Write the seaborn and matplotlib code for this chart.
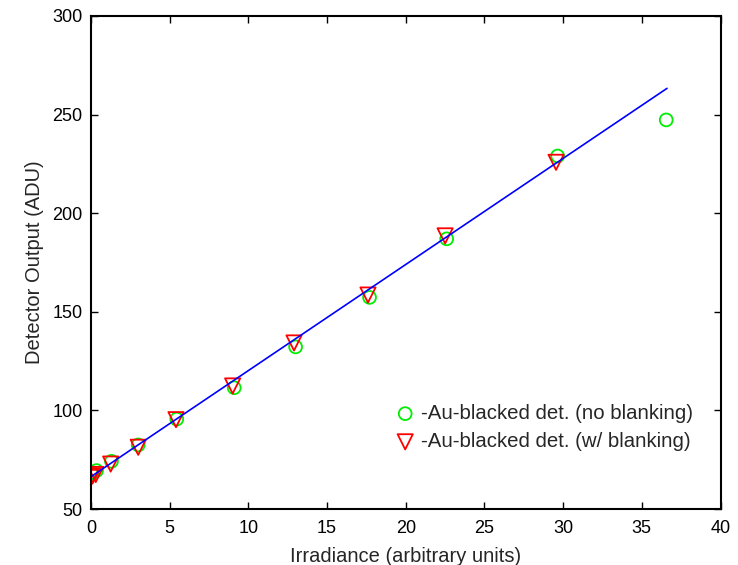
import matplotlib
matplotlib.use("Agg")
import matplotlib.pyplot as plt
import seaborn as sns
import numpy as np

# Au-blacked detector, no blanking
irr_no_blank = [0.0, 0.1, 0.35, 1.3, 3.0, 5.45, 9.1, 13.0, 17.7, 22.6, 29.65, 36.55]
adu_no_blank = [68.5, 68.0, 69.5, 74.2, 82.5, 95.6, 111.5, 132.2, 157.3, 187.0, 229.0, 247.3]

# Au-blacked detector, with blanking
irr_blank = [0.0, 0.1, 0.3, 1.25, 3.0, 5.4, 9.0, 12.9, 17.6, 22.5, 29.55]
adu_blank = [66.0, 66.8, 67.5, 72.8, 81.3, 95.3, 112.4, 134.2, 158.5, 188.5, 225.8]

# Linear fit line
fit_irr = [0.0, 36.6]
fit_adu = [66.4, 263.3]

x_ticks = [0, 5, 10, 15, 20, 25, 30, 35, 40]
y_ticks = [50, 100, 150, 200, 250, 300]

sns.set_style("ticks")
plt.rcParams["font.family"] = ["Liberation Sans", "DejaVu Sans"]
plt.rcParams["axes.linewidth"] = 1.5
plt.rcParams["axes.edgecolor"] = "black"

fig = plt.figure(figsize=(7.38, 5.65), dpi=100)
ax = fig.add_axes([0.1233, 0.0991, 0.8530, 0.8726])

sns.lineplot(x=fit_irr, y=fit_adu, color="#0000ff", linewidth=1.2, ax=ax)
sns.scatterplot(x=irr_no_blank, y=adu_no_blank, marker="o", s=85,
                facecolor="none", edgecolor="#00ee00", linewidth=1.3,
                label="-Au-blacked det. (no blanking)", ax=ax)
sns.scatterplot(x=irr_blank, y=adu_blank, marker="v", s=120,
                facecolor="none", edgecolor="#ff0000", linewidth=1.3,
                label="-Au-blacked det. (w/ blanking)", ax=ax)

ax.set_xlim(0, 40)
ax.set_ylim(50, 300)
ax.set_xticks(x_ticks)
ax.set_yticks(y_ticks)
ax.tick_params(direction="in", length=5, width=1, top=True, right=True,
               labelsize=13, color="black", labelcolor="black")
ax.tick_params(axis="x", pad=8)
ax.tick_params(axis="y", pad=6)
ax.set_xlabel("Irradiance (arbitrary units)", fontsize=14.5, labelpad=7)
ax.set_ylabel("Detector Output (ADU)", fontsize=14.5, labelpad=6)

leg = ax.legend(loc="upper left", bbox_to_anchor=(395 / 738, 1 - 404 / 565),
                bbox_transform=fig.transFigure, frameon=False,
                fontsize=14.7, handletextpad=0.28, borderaxespad=0,
                borderpad=0, labelspacing=0.45, handlelength=1.0)

fig.savefig("out.png", dpi=100)
